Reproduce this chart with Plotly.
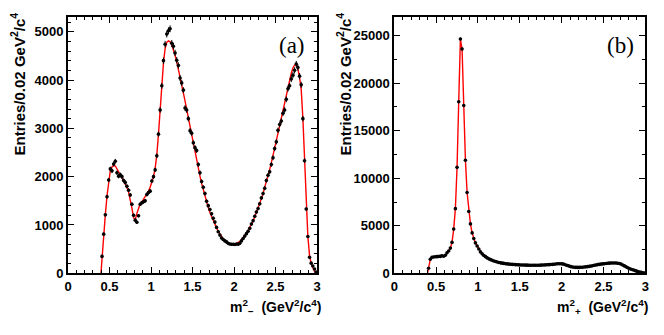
import numpy as np
import plotly.graph_objects as go

# ---------------- data ----------------
bin_width = 0.02
first_center = 0.41

# panel (a): m_-^2 entries per 0.02 bin (centres 0.41 ... 2.99)
counts_a = [
    350, 810, 1210, 1585, 1930, 2160, 2120, 2260, 2320, 2080,
    2010, 2040, 2000, 1920, 1880, 1800, 1720, 1620, 1430, 1200,
    1100, 1055, 1190, 1430, 1460, 1480, 1500, 1630, 1670, 1700,
    1910, 2000, 2140, 2430, 2880, 3380, 3880, 4400, 4740, 4950,
    5020, 5060, 4760, 4700, 4560, 4410, 4300, 4040, 3940, 3790,
    3420, 3380, 3200, 2950, 2900, 2700, 2600, 2540, 2250, 2080,
    1900, 1780, 1650, 1490, 1400, 1320, 1230, 1140, 1060, 950,
    860, 790, 730, 700, 670, 650, 620, 605, 600, 600,
    595, 605, 600, 620, 670, 720, 770, 820, 870, 930,
    1020, 1090, 1180, 1270, 1340, 1440, 1560, 1650, 1760, 1920,
    2030, 2100, 2250, 2390, 2580, 2720, 2960, 3080, 3150, 3310,
    3380, 3600, 3820, 3880, 4020, 4100, 4200, 4330, 4260, 4080,
    3900, 3200, 2330, 1330, 760, 330, 210, 150, 90, 25,
]

# fit curve for panel (a)
fit_x_a = [0.397] + [round(0.41 + 0.02 * i, 2) for i in range(129)] + [2.98]
fit_y_a = [
    0,
    350, 800, 1220, 1600, 1930, 2130, 2200, 2230, 2220, 2170,
    2100, 2040, 1980, 1920, 1860, 1780, 1680, 1540, 1350, 1150,
    1110, 1240, 1370, 1440, 1480, 1530, 1580, 1630, 1700, 1780,
    1880, 2000, 2170, 2450, 2880, 3400, 3900, 4350, 4650, 4780,
    4810, 4790, 4730, 4630, 4510, 4380, 4230, 4070, 3910, 3740,
    3570, 3390, 3210, 3030, 2850, 2670, 2500, 2330, 2170, 2010,
    1860, 1720, 1590, 1470, 1360, 1260, 1170, 1090, 1010, 940,
    870, 810, 760, 710, 670, 640, 615, 600, 595, 595,
    600, 615, 635, 660, 695, 735, 780, 830, 885, 945,
    1010, 1085, 1165, 1250, 1340, 1440, 1545, 1655, 1770, 1890,
    2020, 2150, 2290, 2430, 2580, 2730, 2890, 3050, 3210, 3370,
    3540, 3700, 3860, 4010, 4140, 4250, 4310, 4320, 4230, 4050,
    3800, 3200, 2330, 1330, 760, 370, 200, 120, 50,
    0,
]

# panel (b): m_+^2 entries per 0.02 bin (centres 0.41 ... 2.99)
counts_b = [
    530, 1480, 1690, 1720, 1740, 1750, 1760, 1780, 1850, 1800,
    1900, 2150, 2350, 2650, 3250, 4650, 6800, 11150, 18050, 24650,
    23600, 17650, 11900, 8500, 6500, 5200, 4250, 3650, 3200, 2880,
    2550, 2250, 2050, 1880, 1750, 1620, 1520, 1440, 1360, 1300,
    1240, 1190, 1140, 1100, 1070, 1040, 1010, 990, 970, 950,
    940, 920, 910, 900, 890, 880, 870, 870, 860, 860,
    850, 850, 850, 850, 850, 850, 850, 860, 870, 880,
    890, 900, 910, 920, 940, 960, 980, 1000, 1010, 1010,
    990, 950, 880, 820, 760, 700, 660, 630, 620, 620,
    620, 630, 640, 660, 680, 700, 730, 760, 800, 840,
    880, 910, 940, 970, 990, 1010, 1030, 1050, 1070, 1080,
    1090, 1090, 1080, 1060, 1030, 970, 880, 780, 680, 580,
    500, 430, 370, 310, 250, 190, 140, 100, 60, 15,
]

x_ticks = [0, 0.5, 1, 1.5, 2, 2.5, 3]
x_ticktext = ["0", "0.5", "1", "1.5", "2", "2.5", "3"]
y_ticks_a = [0, 1000, 2000, 3000, 4000, 5000]
y_ticks_b = [0, 5000, 10000, 15000, 20000, 25000]

# ---------------- figure ----------------
centers = np.round(first_center + bin_width * np.arange(len(counts_a)), 2)

fig = go.Figure()

fig.add_trace(go.Scatter(
    x=fit_x_a, y=fit_y_a, mode="lines",
    line=dict(color="#ff0000", width=1.4), xaxis="x", yaxis="y",
    showlegend=False, hoverinfo="skip"))
fig.add_trace(go.Scatter(
    x=centers, y=counts_a, mode="markers",
    marker=dict(color="black", size=3.6),
    error_y=dict(type="data", array=np.sqrt(counts_a), color="black", thickness=1, width=0),
    error_x=dict(type="constant", value=bin_width / 2, color="black", thickness=1, width=0),
    xaxis="x", yaxis="y", showlegend=False))

fig.add_trace(go.Scatter(
    x=[0.397] + list(centers), y=[0] + counts_b, mode="lines",
    line=dict(color="#ff0000", width=1.4), xaxis="x2", yaxis="y2",
    showlegend=False, hoverinfo="skip"))
fig.add_trace(go.Scatter(
    x=centers, y=counts_b, mode="markers",
    marker=dict(color="black", size=3.6),
    error_y=dict(type="data", array=np.sqrt(counts_b), color="black", thickness=1, width=0),
    error_x=dict(type="constant", value=bin_width / 2, color="black", thickness=1, width=0),
    xaxis="x2", yaxis="y2", showlegend=False))

W, H = 664, 335
tickfont = dict(family="Liberation Sans", size=13, color="black")

def bold(lst):
    return ["<b>%s</b>" % s for s in lst]

def xaxis(domain, anchor):
    return dict(domain=domain, anchor=anchor, range=[0, 3], automargin=False,
                tickvals=x_ticks, ticktext=bold(x_ticktext),
                ticks="inside", ticklen=6, tickwidth=1, tickcolor="black",
                minor=dict(ticks="inside", dtick=0.1, ticklen=3, tickcolor="black", tickwidth=1),
                showline=True, linewidth=2, linecolor="black", mirror="ticks",
                showgrid=False, zeroline=False, tickfont=tickfont)

def yaxis(domain, anchor, rng, tv, mdt):
    return dict(domain=domain, anchor=anchor, range=rng, automargin=False,
                tickvals=tv, ticktext=bold([str(v) for v in tv]),
                ticks="inside", ticklen=6, tickwidth=1, tickcolor="black",
                minor=dict(ticks="inside", dtick=mdt, ticklen=3, tickcolor="black", tickwidth=1),
                showline=True, linewidth=2, linecolor="black", mirror="ticks",
                showgrid=False, zeroline=False, tickfont=tickfont)

ydom = [1 - 273.3 / H, 1 - 16.7 / H]
fig.update_layout(
    width=W, height=H, margin=dict(l=0, r=0, t=0, b=0),
    paper_bgcolor="white", plot_bgcolor="white",
    xaxis=xaxis([68 / W, 317 / W], "y"),
    yaxis=yaxis(ydom, "x", [0, 5310], y_ticks_a, 200),
    xaxis2=xaxis([394.3 / W, 645.3 / W], "y2"),
    yaxis2=yaxis(ydom, "x2", [0, 27000], y_ticks_b, 2500),
)

title_font = dict(family="Liberation Sans", size=15, color="black")
ytitle = "<b>Entries/0.02 GeV<sup>2</sup>/c<sup>4</sup></b>"
for xc in (18, 344):
    fig.add_annotation(text=ytitle, xref="paper", yref="paper",
                       x=xc / W, y=1 - 11 / H, xanchor="center", yanchor="top",
                       textangle=-90, showarrow=False, font=title_font)

xt_font = dict(family="Liberation Sans", size=14, color="black")
fig.add_annotation(text="<b>m<sup>2</sup><sub>\u2212</sub>&nbsp;&nbsp;(GeV<sup>2</sup>/c<sup>4</sup>)</b>",
                   xref="paper", yref="paper", x=323 / W, y=1 - 307 / H,
                   xanchor="right", yanchor="middle", showarrow=False, font=xt_font)
fig.add_annotation(text="<b>m<sup>2</sup><sub>+</sub>&nbsp;&nbsp;(GeV<sup>2</sup>/c<sup>4</sup>)</b>",
                   xref="paper", yref="paper", x=650 / W, y=1 - 307 / H,
                   xanchor="right", yanchor="middle", showarrow=False, font=xt_font)

label_font = dict(family="Liberation Serif", size=23, color="black")
fig.add_annotation(text="(a)", xref="paper", yref="paper", x=292 / W, y=1 - 46 / H,
                   xanchor="center", yanchor="middle", showarrow=False, font=label_font)
fig.add_annotation(text="(b)", xref="paper", yref="paper", x=620 / W, y=1 - 46 / H,
                   xanchor="center", yanchor="middle", showarrow=False, font=label_font)

fig.write_html("out.html", config={"displayModeBar": False},
               post_script="document.body.style.margin='0';document.body.style.overflow='hidden';")
